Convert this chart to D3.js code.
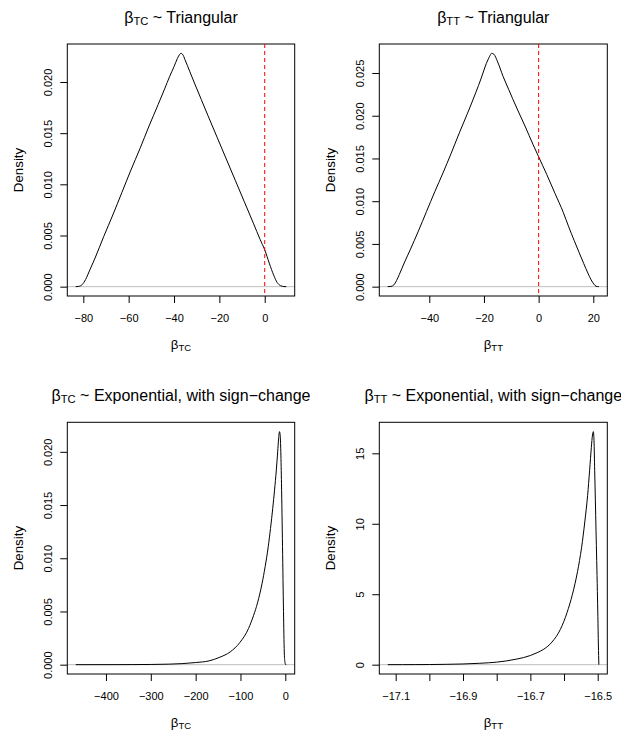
<!DOCTYPE html>
<html><head><meta charset="utf-8">
<script src="https://cdn.jsdelivr.net/npm/d3@7"></script>
<style>
body{margin:0;background:#fff}
svg{display:block}
text{font-family:"Liberation Sans",Arial,Helvetica,sans-serif;fill:#000}
</style>
</head><body>
<svg id="chart" width="621" height="733"></svg>
<script>
// ---------- data ----------
const tcTriX = [-83.35, -82, -80.5, -79, -77, -75, -71, -67, -63, -59, -55, -51, -47, -44, -42, -40, -38.5, -37.5, -37, -36.2, -35.2, -33, -31, -28, -25, -21, -17, -13, -9, -5, -2, 0, 2, 4, 5.5, 7, 8.5, 9.51];
const tcTriDensity = [0, 0.00003, 0.0002, 0.0007, 0.0017, 0.0027, 0.0049, 0.0070, 0.0092, 0.0114, 0.0135, 0.0157, 0.0178, 0.0194, 0.0205, 0.0215, 0.0223, 0.0227, 0.0228, 0.0227, 0.0222, 0.0210, 0.0199, 0.0183, 0.0167, 0.0146, 0.0125, 0.0104, 0.0083, 0.0062, 0.0046, 0.0036, 0.0023, 0.0011, 0.0004, 0.0001, 0.00001, 0];

const ttTriX = [-55.2, -54, -53, -52, -51, -49, -47, -44, -41, -38, -35, -32, -29, -26, -23, -21, -19.5, -18, -17.2, -16.4, -15, -13, -11, -8, -5, -2, 0, 3, 6, 9, 11, 13, 14.8, 16.5, 18, 19.2, 20.2, 21, 22.03];
const ttTriDensity = [0, 0.00003, 0.0002, 0.0007, 0.0014, 0.0029, 0.0043, 0.0065, 0.0088, 0.0111, 0.0133, 0.0156, 0.0180, 0.0203, 0.0227, 0.0244, 0.0258, 0.0269, 0.0273, 0.0272, 0.0263, 0.0246, 0.0231, 0.0209, 0.0188, 0.0166, 0.0152, 0.0131, 0.0109, 0.0087, 0.0070, 0.0054, 0.0040, 0.0027, 0.0016, 0.0008, 0.0003, 0.00005, 0];

const tcExpX = [-467.5, -420, -380, -340, -300, -260, -230, -200, -170, -146, -123, -101, -82, -71, -62, -52, -45, -38, -33, -28, -24, -20, -17, -15, -13, -11.5, -10, -8.5, -6.2, -4, -2.3, -1, 0.5, 2.18];
const tcExpDensity = [0, 0.000001, 0.000003, 0.000008, 0.00002, 0.00005, 0.0001, 0.0002, 0.00036, 0.0007, 0.0012, 0.0021, 0.0034, 0.0046, 0.0058, 0.0076, 0.0092, 0.0111, 0.0128, 0.0147, 0.0164, 0.0183, 0.0200, 0.0212, 0.0219, 0.0216, 0.0200, 0.0170, 0.0111, 0.0050, 0.0012, 0.0003, 0.00002, 0];

const ttExpX = [-17.1236, -17.08, -17.04, -17.0, -16.95, -16.9, -16.85, -16.8, -16.77, -16.74, -16.7, -16.68, -16.66, -16.636, -16.611, -16.591, -16.575, -16.56, -16.548, -16.538, -16.53, -16.524, -16.519, -16.5155, -16.513, -16.511, -16.509, -16.507, -16.505, -16.503, -16.501, -16.4995, -16.498, -16.4966];
const ttExpDensity = [0, 0.002, 0.005, 0.01, 0.025, 0.05, 0.1, 0.18, 0.27, 0.4, 0.65, 0.85, 1.1, 1.6, 2.5, 3.7, 5.0, 6.6, 8.3, 10.2, 12.0, 13.8, 15.4, 16.3, 16.54, 15.9, 13.8, 11.7, 9.5, 7.4, 5.2, 3.4, 1.4, 0];

const tcTriTicksX = [-80, -60, -40, -20, 0];
const tcTriLabelsX = ["\u221280", "\u221260", "\u221240", "\u221220", "0"];
const tcTriTicksY = [0, 0.005, 0.010, 0.015, 0.020];
const tcTriLabelsY = ["0.000", "0.005", "0.010", "0.015", "0.020"];

const ttTriTicksX = [-40, -20, 0, 20];
const ttTriLabelsX = ["\u221240", "\u221220", "0", "20"];
const ttTriTicksY = [0, 0.005, 0.010, 0.015, 0.020, 0.025];
const ttTriLabelsY = ["0.000", "0.005", "0.010", "0.015", "0.020", "0.025"];

const tcExpTicksX = [-400, -300, -200, -100, 0];
const tcExpLabelsX = ["\u2212400", "\u2212300", "\u2212200", "\u2212100", "0"];
const tcExpTicksY = [0, 0.005, 0.010, 0.015, 0.020];
const tcExpLabelsY = ["0.000", "0.005", "0.010", "0.015", "0.020"];

const ttExpTicksX = [-17.1, -17.0, -16.9, -16.8, -16.7, -16.6, -16.5];
const ttExpLabelsX = ["\u221217.1", "", "\u221216.9", "", "\u221216.7", "", "\u221216.5"];
const ttExpTicksY = [0, 5, 10, 15];
const ttExpLabelsY = ["0", "5", "10", "15"];

const subscripts = ["TC", "TT", "TC", "TT"];
const titleRests = [" ~ Triangular", " ~ Triangular", " ~ Exponential, with sign\u2212change", " ~ Exponential, with sign\u2212change"];
const yAxisTitle = "Density";

// ---------- layout ----------
const boxes = [
  {l: 67.3, r: 294.7, t: 44, b: 296},
  {l: 379.3, r: 607.3, t: 44, b: 296},
  {l: 67.3, r: 294.7, t: 422.3, b: 674},
  {l: 379.3, r: 607.3, t: 422.3, b: 674}
];

const panels = [
  {x: tcTriX, y: tcTriDensity, tx: tcTriTicksX, lx: tcTriLabelsX, ty: tcTriTicksY, ly: tcTriLabelsY, vline: true},
  {x: ttTriX, y: ttTriDensity, tx: ttTriTicksX, lx: ttTriLabelsX, ty: ttTriTicksY, ly: ttTriLabelsY, vline: true},
  {x: tcExpX, y: tcExpDensity, tx: tcExpTicksX, lx: tcExpLabelsX, ty: tcExpTicksY, ly: tcExpLabelsY, vline: false},
  {x: ttExpX, y: ttExpDensity, tx: ttExpTicksX, lx: ttExpLabelsX, ty: ttExpTicksY, ly: ttExpLabelsY, vline: false}
];

const svg = d3.select("#chart");
const defs = svg.append("defs");

panels.forEach((p, i) => {
  const box = boxes[i];
  const xExt = d3.extent(p.x);
  const xr = xExt[1] - xExt[0];
  const yMax = d3.max(p.y);
  const x = d3.scaleLinear().domain([xExt[0] - 0.04 * xr, xExt[1] + 0.04 * xr]).range([box.l, box.r]);
  const y = d3.scaleLinear().domain([-0.04 * yMax, 1.04 * yMax]).range([box.b, box.t]);

  const g = svg.append("g");
  const clipId = "clip" + i;
  defs.append("clipPath").attr("id", clipId).append("rect")
    .attr("x", box.l).attr("y", box.t).attr("width", box.r - box.l).attr("height", box.b - box.t);

  // zero line (gray)
  g.append("line").attr("clip-path", `url(#${clipId})`)
    .attr("x1", box.l).attr("x2", box.r).attr("y1", y(0)).attr("y2", y(0))
    .attr("stroke", "#BEBEBE").attr("stroke-width", 1);

  // density curve
  const pts = p.x.map((v, k) => [v, p.y[k]]);
  g.append("path").datum(pts)
    .attr("d", d3.line().x(d => x(d[0])).y(d => y(d[1])).curve(d3.curveMonotoneX))
    .attr("fill", "none").attr("stroke", "#000").attr("stroke-width", 1);

  // box
  g.append("rect").attr("x", box.l).attr("y", box.t)
    .attr("width", box.r - box.l).attr("height", box.b - box.t)
    .attr("fill", "none").attr("stroke", "#000").attr("stroke-width", 1);

  // x axis
  const ax = g.append("g").attr("transform", `translate(0,${box.b})`)
    .call(d3.axisBottom(x).tickValues(p.tx).tickFormat((d, k) => p.lx[k]).tickSize(7).tickSizeOuter(0));
  ax.select(".domain").remove();
  ax.selectAll("line").attr("stroke", "#000");
  ax.selectAll("text").attr("y", 25.5).attr("dy", 0)
    .style("font-family", '"Liberation Sans",Arial,Helvetica,sans-serif').style("font-size", "11px").attr("fill", "#000");

  // y axis
  const ay = g.append("g").attr("transform", `translate(${box.l},0)`)
    .call(d3.axisLeft(y).tickValues(p.ty).tickFormat((d, k) => p.ly[k]).tickSize(7).tickSizeOuter(0));
  ay.select(".domain").remove();
  ay.selectAll("line").attr("stroke", "#000");
  ay.selectAll("text").attr("x", 0).attr("y", 0).attr("dy", 0)
    .attr("text-anchor", "middle").attr("transform", "translate(-15,0) rotate(-90)")
    .style("font-family", '"Liberation Sans",Arial,Helvetica,sans-serif').style("font-size", "11px").attr("fill", "#000");

  // red dashed reference at 0
  if (p.vline) {
    g.append("line").attr("clip-path", `url(#${clipId})`)
      .attr("x1", x(0)).attr("x2", x(0)).attr("y1", box.t).attr("y2", box.b)
      .attr("stroke", "red").attr("stroke-width", 1).attr("stroke-dasharray", "4,3");
  }

  const cx = (box.l + box.r) / 2;
  const cy = (box.t + box.b) / 2;

  // title
  const tt = g.append("text").attr("x", cx).attr("y", box.t - 21.5)
    .attr("text-anchor", "middle").style("font-size", "16px");
  tt.append("tspan").text("\u03B2");
  tt.append("tspan").attr("dy", 2.5).style("font-size", "11.2px").text(subscripts[i]);
  tt.append("tspan").attr("dy", -2.5).text(titleRests[i]);

  // x label
  const xl = g.append("text").attr("x", cx).attr("y", box.b + 53)
    .attr("text-anchor", "middle").style("font-size", "13.33px");
  xl.append("tspan").text("\u03B2");
  xl.append("tspan").attr("dy", 2).style("font-size", "9.5px").text(subscripts[i]);

  // y label
  g.append("text").attr("transform", `translate(${box.l - 44.3},${cy}) rotate(-90)`)
    .attr("text-anchor", "middle").style("font-size", "13.33px").text(yAxisTitle);
});
</script>
</body></html>
